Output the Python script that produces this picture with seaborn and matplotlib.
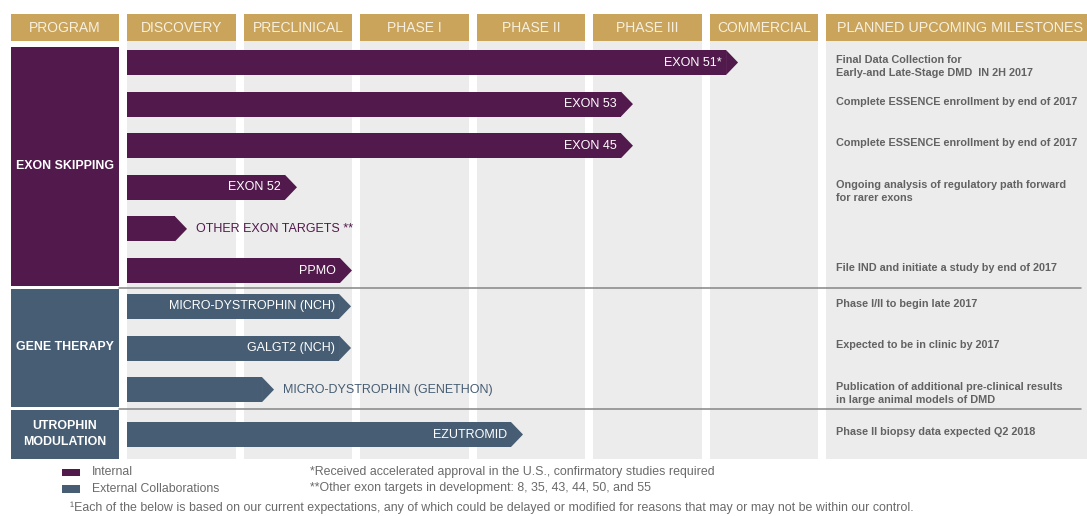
import matplotlib
matplotlib.use("Agg")
import matplotlib.pyplot as plt
import seaborn as sns
import pandas as pd
import numpy as np
from matplotlib.patches import Rectangle, Polygon

# ---------------- data ----------------
stages = ["DISCOVERY", "PRECLINICAL", "PHASE I", "PHASE II", "PHASE III", "COMMERCIAL"]
programs = ["EXON 51*", "EXON 53", "EXON 45", "EXON 52", "OTHER EXON TARGETS **", "PPMO",
            "MICRO-DYSTROPHIN (NCH)", "GALGT2 (NCH)", "MICRO-DYSTROPHIN (GENETHON)", "EZUTROMID"]
# progress through stages (1 unit = one stage column), read at the arrow tip
progress = [5.245, 4.343, 4.343, 1.459, 0.515, 1.931, 1.923, 1.923, 1.262, 3.399]
partner = ["Internal"] * 6 + ["External Collaborations"] * 4
group = ["EXON SKIPPING"] * 6 + ["GENE THERAPY"] * 3 + ["UTROPHIN\nMODULATION"]
groups = ["EXON SKIPPING", "GENE THERAPY", "UTROPHIN\nMODULATION"]
milestones = [
    "Final Data Collection for\nEarly-and Late-Stage DMD  IN 2H 2017",
    "Complete ESSENCE enrollment by end of 2017",
    "Complete ESSENCE enrollment by end of 2017",
    "Ongoing analysis of regulatory path forward\nfor rarer exons",
    "",
    "File IND and initiate a study by end of 2017",
    "Phase I/II to begin late 2017",
    "Expected to be in clinic by 2017",
    "Publication of additional pre-clinical results\nin large animal models of DMD",
    "Phase II biopsy data expected Q2 2018",
]
legend_labels = ["Internal", "External Collaborations"]
footnotes = ["*Received accelerated approval in the U.S., confirmatory studies required",
             "**Other exon targets in development: 8, 35, 43, 44, 50, and 55"]
bottom_note = ("\u00b9Each of the below is based on our current expectations, any of which could be "
               "delayed or modified for reasons that may or may not be within our control.")

# ---------------- style ----------------
PURPLE = "#521a4c"
SLATE = "#465d73"
GOLD = "#c9a45a"
GRAY_BG = "#ececec"
HEAD_TXT = "#f7f0e0"
palette = {"Internal": PURPLE, "External Collaborations": SLATE}
group_colors = {"EXON SKIPPING": PURPLE, "GENE THERAPY": SLATE, "UTROPHIN\nMODULATION": SLATE}

sns.set_theme(style="white")
plt.rcParams["font.family"] = ["Liberation Sans", "DejaVu Sans"]

W, H = 1087, 516
fig = plt.figure(figsize=(W / 100, H / 100), dpi=100)
ax = fig.add_axes([0, 0, 1, 1])

x0, pitch = 127.0, 116.5          # pixel of stage 0 and pixels per stage
def sx(px):
    return (px - x0) / pitch
def sl(px):
    return px / pitch

colw = 0.935
head_top, head_bot = 14, 41
body_top, body_bot = 41, 459
group_bounds = {"EXON SKIPPING": (47, 286), "GENE THERAPY": (289, 407),
                "UTROPHIN\nMODULATION": (410, 459)}
row_sp = 41.6
bar_h = 25
arrow = sl(12)

# row centres, spread evenly inside each group block
row_y = []
for g in groups:
    idx = [i for i, gg in enumerate(group) if gg == g]
    t, b = group_bounds[g]
    c = (t + b) / 2
    n = len(idx)
    for k in range(n):
        row_y.append(c + (k - (n - 1) / 2) * row_sp)

# backgrounds
for k, s in enumerate(stages):
    ax.add_patch(Rectangle((k, body_top), colw, body_bot - body_top, fc=GRAY_BG, ec="none", zorder=0))
    ax.add_patch(Rectangle((k, head_top), colw, head_bot - head_top, fc=GOLD, ec="none", zorder=1))
    ax.text(k + colw / 2, (head_top + head_bot) / 2 + 0.5, s, ha="center", va="center",
            fontsize=10, color=HEAD_TXT, zorder=3)
ms_x = len(stages)
ax.add_patch(Rectangle((ms_x, body_top), 5, body_bot - body_top, fc=GRAY_BG, ec="none", zorder=0))
ax.add_patch(Rectangle((ms_x, head_top), 5, head_bot - head_top, fc=GOLD, ec="none", zorder=1))
ax.text(ms_x + sl(11), (head_top + head_bot) / 2 + 0.5, "PLANNED UPCOMING MILESTONES",
        ha="left", va="center", fontsize=10.4, color=HEAD_TXT, zorder=3)
# program column
px_l, px_w = sx(11), sl(108)
ax.add_patch(Rectangle((px_l, head_top), px_w, head_bot - head_top, fc=GOLD, ec="none", zorder=1))
ax.text(px_l + px_w / 2, (head_top + head_bot) / 2 + 0.5, "PROGRAM", ha="center", va="center",
        fontsize=10, color=HEAD_TXT, zorder=3)
for g in groups:
    t, b = group_bounds[g]
    ax.add_patch(Rectangle((px_l, t), px_w, b - t, fc=group_colors[g], ec="none", zorder=1))
    ax.text(px_l + px_w / 2, (t + b) / 2 - 0.5, g, ha="center", va="center", fontsize=8.9,
            fontweight="bold", color="white", linespacing=1.5, zorder=3)

# separators
for y in [287.5, 408.5]:
    ax.plot([sx(119), sx(1081)], [y, y], color="#858585", lw=1.1, zorder=2)

# ---------------- bars ----------------
df = pd.DataFrame({"program": programs, "tip": progress, "partner": partner,
                   "group": group, "row_y": row_y})
df["body"] = df["tip"] - arrow
min_sp = np.min(np.diff(np.sort(df["row_y"].values)))
n_before = len(ax.patches)
sns.barplot(data=df, x="body", y="row_y", hue="partner", palette=palette, orient="h",
            native_scale=True, dodge=False, width=bar_h / min_sp, errorbar=None,
            saturation=1, legend=False, linewidth=0, ax=ax, zorder=2)
bars = ax.patches[n_before:]
for p in bars:
    yc = p.get_y() + p.get_height() / 2
    i = int(np.argmin(np.abs(df["row_y"].values - yc)))
    col = palette[df["partner"][i]]
    xe = p.get_x() + p.get_width()
    y0, h = p.get_y(), p.get_height()
    ax.add_patch(Polygon([(xe, y0), (xe + arrow, y0 + h / 2), (xe, y0 + h)], closed=True,
                         fc=col, ec="none", zorder=2))
    label = df["program"][i]
    if df["tip"][i] < 1.3:
        ax.text(df["tip"][i] + sl(9), yc, label, ha="left", va="center", fontsize=9,
                color=col, zorder=3)
    else:
        ax.text(xe - sl(4), yc, label, ha="right", va="center", fontsize=9,
                color="white", zorder=3)
    ms = milestones[i]
    if ms:
        ax.text(ms_x + sl(10), yc - 7.5, ms, ha="left", va="top", fontsize=7.85,
                fontweight="bold", color="#626262", linespacing=1.42, zorder=3)

# ---------------- legend & notes ----------------
for k, lab in enumerate(legend_labels):
    y = 472 + k * 16.5
    ax.add_patch(Rectangle((sx(62), y - 3.5), sl(18), 7.5, fc=palette[lab], ec="none", zorder=2))
    ax.text(sx(92), y, lab, ha="left", va="center", fontsize=8.8, color="#6a6a6a")
for k, fn in enumerate(footnotes):
    ax.text(sx(310), 472 + k * 16.5, fn, ha="left", va="center", fontsize=8.9, color="#6a6a6a")
ax.text(sx(70), 508, bottom_note, ha="left", va="center", fontsize=8.9, color="#6a6a6a")

ax.set_xlim(sx(0), sx(W))
ax.set_ylim(H, 0)
ax.set_axis_off()
fig.savefig("out.png", dpi=100, facecolor="white")
